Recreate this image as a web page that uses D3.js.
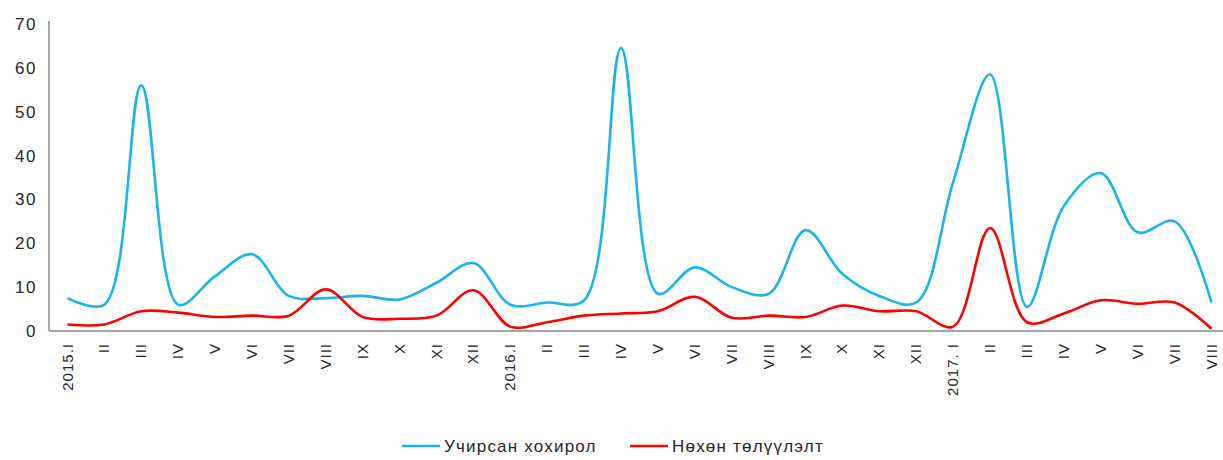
<!DOCTYPE html>
<html>
<head>
<meta charset="utf-8">
<script src="https://cdn.jsdelivr.net/npm/d3@7"></script>
<style>
  body { margin: 0; background: #fff; }
  text { font-family: "Liberation Sans", Arial, sans-serif; fill: #262626; }
</style>
</head>
<body>
<script>
var months = ["I","II","III","IV","V","VI","VII","VIII","IX","X","XI","XII"];
var categories = ["2015.I"].concat(months.slice(1),
    ["2016.I"], months.slice(1),
    ["2017. I"], months.slice(1, 8));

var losses = [7.5, 6, 56, 6, 12.5, 17.5, 8, 7.5, 8, 7.2, 11, 15.5,
              6, 6.5, 7, 64.5, 8.5, 14.5, 10, 8.5, 23, 13, 8, 6.5,
              34, 58.5, 5.5, 28.5, 36, 22.5, 25, 6.5];
var recovered = [1.5, 1.5, 4.5, 4.2, 3.2, 3.5, 3.5, 9.5, 3.2, 2.8, 3.5, 9.3,
                 1.0, 2, 3.5, 4, 4.5, 7.8, 3, 3.5, 3.2, 5.8, 4.5, 4.5,
                 1, 23.5, 2, 4, 7, 6.2, 6.5, 0.5];
var yTicks = [0, 10, 20, 30, 40, 50, 60, 70];
var seriesNames = ["Учирсан хохирол", "Нөхөн төлүүлэлт"];
var colors = ["#1ab3ea", "#ff0000"];

var svg = d3.select("body").append("svg")
    .attr("width", 1223).attr("height", 460);

var x = d3.scalePoint()
    .domain(d3.range(categories.length))
    .range([67.5, 1211.5]);

var y = d3.scaleLinear().domain([0, 70]).range([331, 24]);

// axes lines
svg.append("line")
    .attr("x1", 49).attr("x2", 49)
    .attr("y1", 21).attr("y2", 331)
    .attr("stroke", "#a6a6a6").attr("stroke-width", 2);
svg.append("line")
    .attr("x1", 49).attr("x2", 1223)
    .attr("y1", 331).attr("y2", 331)
    .attr("stroke", "#a6a6a6").attr("stroke-width", 2);

svg.selectAll("text.ytick")
    .data(yTicks)
    .enter()
    .append("text")
    .attr("class", "ytick")
    .attr("x", 37)
    .attr("y", function (d) { return y(d) + 6; })
    .attr("text-anchor", "end")
    .attr("font-size", "17px")
    .attr("letter-spacing", "1.5px")
    .text(function (d) { return d; });

svg.selectAll("text.xtick")
    .data(categories)
    .enter()
    .append("text")
    .attr("class", "xtick")
    .attr("transform", function (d, i) {
        return "translate(" + (x(i) + 5) + ",343) rotate(-90)";
    })
    .attr("text-anchor", "end")
    .attr("font-size", "15px")
    .attr("letter-spacing", "1px")
    .text(function (d) { return d; });

var line = d3.line()
    .x(function (d, i) { return x(i); })
    .y(function (d) { return y(d); })
    .curve(d3.curveCatmullRom.alpha(0.5));

[losses, recovered].forEach(function (s, k) {
    svg.append("path")
        .attr("d", line(s))
        .attr("fill", "none")
        .attr("stroke", colors[k])
        .attr("stroke-width", 2.6)
        .attr("stroke-linejoin", "round");
});

// legend
var legendX = [402, 630];
seriesNames.forEach(function (name, k) {
    svg.append("line")
        .attr("x1", legendX[k]).attr("x2", legendX[k] + 38)
        .attr("y1", 446).attr("y2", 446)
        .attr("stroke", colors[k]).attr("stroke-width", 2.6);
    svg.append("text")
        .attr("x", legendX[k] + 42).attr("y", 452)
        .attr("font-size", "17px")
        .attr("letter-spacing", "1.2px")
        .text(name);
});
</script>
</body>
</html>
